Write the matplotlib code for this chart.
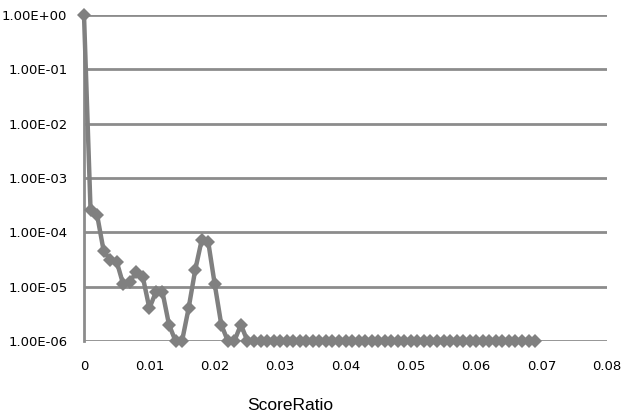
"""ScoreRatio distribution on a log scale"""

import numpy as np
from matplotlib import pyplot as plt
from matplotlib import ticker

# Data
score_ratio = np.round(np.arange(0, 0.0695, 0.001), 3)
head_values = [
    1.0, 2.6e-4, 2.1e-4, 4.6e-5, 3.1e-5, 2.9e-5, 1.1e-5, 1.2e-5, 1.9e-5,
    1.5e-5, 4.0e-6, 8.0e-6, 8.0e-6, 2.0e-6, 1.0e-6, 1.0e-6, 4.0e-6, 2.0e-5,
    7.2e-5, 6.7e-5, 1.1e-5, 2.0e-6, 1.0e-6, 1.0e-6, 2.0e-6,
]
tail_values = [1.0e-6] * (len(score_ratio) - len(head_values))
frequency = np.array(head_values + tail_values)

x_ticks = [0, 0.01, 0.02, 0.03, 0.04, 0.05, 0.06, 0.07, 0.08]
x_tick_labels = ['0', '0.01', '0.02', '0.03', '0.04', '0.05', '0.06', '0.07', '0.08']
y_ticks = [1e0, 1e-1, 1e-2, 1e-3, 1e-4, 1e-5, 1e-6]
y_tick_labels = ['1.00E+00', '1.00E-01', '1.00E-02', '1.00E-03',
                 '1.00E-04', '1.00E-05', '1.00E-06']

gray = '#808080'

fig = plt.figure(figsize=(6.22, 4.18), dpi=100)
ax = fig.add_axes([84 / 622, 1 - 341 / 418, (607 - 84) / 622, (341 - 15) / 418])

# Series line with diamond markers
ax.plot(score_ratio, frequency, color=gray, linewidth=3.2,
        marker='D', markersize=7, markeredgewidth=0, zorder=3,
        clip_on=False)

# Log y axis
ax.set_yscale('log')
ax.set_ylim(1e-6, 1e0)
ax.set_xlim(0, 0.08)
ax.yaxis.set_major_locator(ticker.FixedLocator(y_ticks))
ax.yaxis.set_major_formatter(ticker.FixedFormatter(y_tick_labels))
ax.yaxis.set_minor_locator(ticker.NullLocator())
ax.set_xticks(x_ticks)
ax.set_xticklabels(x_tick_labels)

# Horizontal grid lines
ax.grid(True, axis='y', color='#8c8c8c', linewidth=2)
ax.grid(False, axis='x')

# Frame: only the left spine
for side in ['top', 'right', 'bottom']:
    ax.spines[side].set_visible(False)
ax.spines['left'].set_color('#8c8c8c')
ax.spines['left'].set_linewidth(2)

ax.tick_params(axis='both', which='both', length=0, labelsize=9.5,
               colors='black')
ax.tick_params(axis='y', pad=12)
ax.tick_params(axis='x', pad=14)

ax.set_xlabel('ScoreRatio', fontsize=12.5, family='Liberation Sans',
              va='center')
ax.xaxis.set_label_coords((290 - 84) / 523, -(405 - 341) / 326)

fig.savefig('out.png', dpi=100)
